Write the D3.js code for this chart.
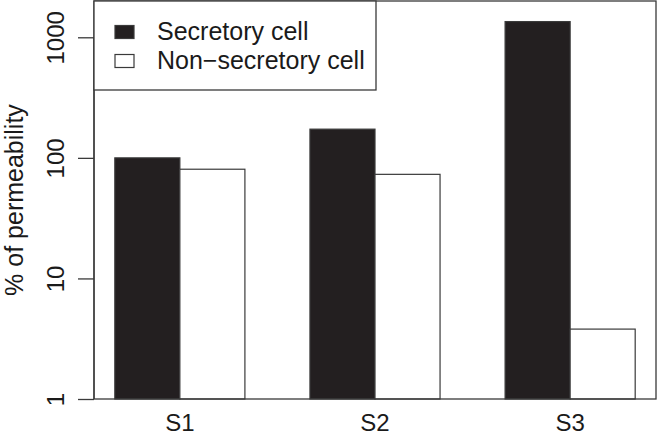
<!DOCTYPE html>
<html>
<head>
<meta charset="utf-8">
<script src="https://cdn.jsdelivr.net/npm/d3@7"></script>
<style>
  html, body { margin: 0; padding: 0; background: #fff; }
  svg { display: block; font-family: "Liberation Sans", Arial, Helvetica, sans-serif; }
</style>
</head>
<body>
<svg id="chart" width="658" height="438"></svg>
<script>
const categories = ["S1", "S2", "S3"];
const seriesNames = ["Secretory cell", "Non\u2212secretory cell"];
const secretory = [100, 173, 1350];
const nonSecretory = [80.5, 73, 3.8];
const yTicks = [1, 10, 100, 1000];
const yLabel = "% of permeability";

const W = 658, H = 438;
const plot = { left: 94, right: 656, top: 1, bottom: 399 };
const fills = ["#231f20", "#ffffff"];
const stroke = "#3a3a3a";

const svg = d3.select("#chart");

const x = d3.scaleBand()
  .domain(categories)
  .range([plot.left, plot.right])
  .paddingInner(1 / 3)
  .paddingOuter(0.32 / 3);

const xSub = d3.scaleBand()
  .domain(seriesNames)
  .range([0, x.bandwidth()])
  .padding(0);

const y = d3.scaleLog()
  .domain([1, 2000])
  .range([plot.bottom, plot.top]);

const data = categories.map((c, i) => ({
  cat: c,
  vals: [
    { s: seriesNames[0], v: secretory[i], k: 0 },
    { s: seriesNames[1], v: nonSecretory[i], k: 1 }
  ]
}));

// bars
const g = svg.append("g");
g.selectAll("g.grp")
  .data(data)
  .join("g")
  .attr("class", "grp")
  .attr("transform", d => `translate(${x(d.cat)},0)`)
  .selectAll("rect")
  .data(d => d.vals)
  .join("rect")
  .attr("x", d => xSub(d.s))
  .attr("width", xSub.bandwidth())
  .attr("y", d => y(d.v))
  .attr("height", d => plot.bottom - y(d.v))
  .attr("fill", d => fills[d.k])
  .attr("stroke", stroke)
  .attr("stroke-width", 1.2);

// plot box
svg.append("rect")
  .attr("x", plot.left).attr("y", plot.top)
  .attr("width", plot.right - plot.left)
  .attr("height", plot.bottom - plot.top)
  .attr("fill", "none")
  .attr("stroke", stroke)
  .attr("stroke-width", 1.3);

// y axis
const yAxis = d3.axisLeft(y)
  .tickValues(yTicks)
  .tickFormat(d3.format("d"))
  .tickSize(16)
  .tickPadding(0);

const ya = svg.append("g")
  .attr("transform", `translate(${plot.left},0)`)
  .call(yAxis);
ya.select(".domain")
  .attr("d", `M0,${y(yTicks[0])}V${y(yTicks[yTicks.length - 1])}`)
  .attr("stroke", stroke).attr("stroke-width", 1.3);
ya.selectAll(".tick line").attr("stroke", stroke).attr("stroke-width", 1.3);
ya.selectAll(".tick text")
  .attr("x", null).attr("dy", null)
  .attr("transform", "translate(-30,0) rotate(-90)")
  .attr("text-anchor", "middle")
  .attr("fill", "#1a1a1a")
  .style("font-size", "24px")
  .style("font-family", "'Liberation Sans', Arial, sans-serif");

// x labels
const xAxis = d3.axisBottom(x).tickSize(0).tickPadding(0);
const xa = svg.append("g")
  .attr("transform", `translate(0,${plot.bottom})`)
  .call(xAxis);
xa.select(".domain").remove();
xa.selectAll(".tick text")
  .attr("y", 32).attr("dy", null)
  .attr("fill", "#1a1a1a")
  .style("font-size", "24px")
  .style("font-family", "'Liberation Sans', Arial, sans-serif");

// y label
svg.append("text")
  .attr("transform", `translate(23,${(plot.top + plot.bottom) / 2}) rotate(-90)`)
  .attr("text-anchor", "middle")
  .attr("fill", "#1a1a1a")
  .style("font-size", "25px")
  .text(yLabel);

// legend
const leg = svg.append("g");
leg.append("rect")
  .attr("x", plot.left).attr("y", plot.top)
  .attr("width", 376 - plot.left).attr("height", 90 - plot.top)
  .attr("fill", "#fff")
  .attr("stroke", stroke)
  .attr("stroke-width", 1.3);
const items = leg.selectAll("g.item")
  .data(seriesNames)
  .join("g")
  .attr("class", "item")
  .attr("transform", (d, i) => `translate(0,${i * 29})`);
items.append("rect")
  .attr("x", 115).attr("y", 25.5)
  .attr("width", 19).attr("height", 13)
  .attr("fill", (d, i) => fills[i])
  .attr("stroke", stroke)
  .attr("stroke-width", 1.2);
items.append("text")
  .attr("x", 157).attr("y", 40)
  .attr("fill", "#1a1a1a")
  .style("font-size", "25px")
  .text(d => d);
</script>
</body>
</html>
